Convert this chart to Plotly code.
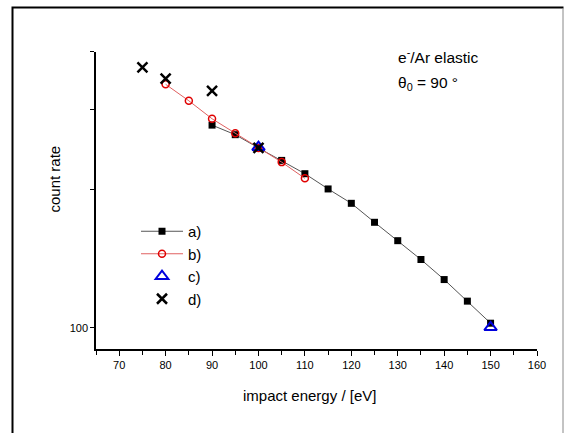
import plotly.graph_objects as go

# a) black squares with grey line
a_x = [90, 95, 100, 105, 110, 115, 120, 125, 130, 135, 140, 145, 150]
a_y = [277, 264, 247, 232, 217, 201, 187, 170, 155, 141, 127.5, 114.4, 102.4]
# b) red open circles
b_x = [80, 85, 90, 95, 100, 105, 110]
b_y = [340, 313, 286, 266, 247, 230, 212]
# c) blue open triangles
c_x = [100, 150]
c_y = [248, 100.3]
# d) black crosses
d_x = [75, 80, 90, 100]
d_y = [370, 350, 329, 247]

y_tickvals = [100, 200, 300, 400]
y_ticktext = ["100", "", "", ""]
x_tickvals = [70, 80, 90, 100, 110, 120, 130, 140, 150, 160]

FONT = "Liberation Sans, Arial, sans-serif"

# plot-area geometry helpers (pixels -> paper)
L, R, T, B = 96, 537, 52, 349
def px(x):
    return (x - L) / (R - L)
def py(y):
    return (B - y) / (B - T)

fig = go.Figure()
fig.add_trace(go.Scatter(x=a_x, y=a_y, mode="lines+markers", name="a)",
                         line=dict(color="#555555", width=1),
                         marker=dict(symbol="square", size=7, color="black")))
fig.add_trace(go.Scatter(x=b_x, y=b_y, mode="lines+markers", name="b)",
                         line=dict(color="#e06060", width=1),
                         marker=dict(symbol="circle-open", size=7, color="#e00000",
                                     line=dict(width=1.5))))
fig.add_trace(go.Scatter(x=c_x, y=c_y, mode="markers", name="c)",
                         marker=dict(symbol="triangle-up-open", size=11, color="#0000dd",
                                     line=dict(width=2))))
fig.add_trace(go.Scatter(x=d_x, y=d_y, mode="markers", name="d)",
                         marker=dict(symbol="x-thin-open", size=10, color="black",
                                     line=dict(width=2.5, color="black"))))

fig.update_layout(
    width=564, height=433,
    margin=dict(l=L, r=564 - R, t=T, b=433 - B),
    paper_bgcolor="white", plot_bgcolor="white",
    font=dict(family=FONT, color="black"),
    showlegend=True,
    legend=dict(x=px(136), y=py(215), xanchor="left", yanchor="top",
                bgcolor="rgba(0,0,0,0)", font=dict(size=15, family=FONT),
                borderwidth=0, itemwidth=42),
    xaxis=dict(range=[65, 160], tickvals=x_tickvals, ticks="outside", ticklen=5,
               tickwidth=1, tickcolor="black", showline=True, linecolor="black",
               linewidth=1.5, showgrid=False, zeroline=False,
               tickfont=dict(size=11, family=FONT),
               minor=dict(dtick=5, tick0=65, ticks="outside", ticklen=4,
                          tickcolor="black", tickwidth=1, showgrid=False)),
    yaxis=dict(type="log", range=[1.954, 2.602], tickvals=y_tickvals,
               ticktext=y_ticktext, ticks="outside", ticklen=4, tickwidth=1,
               tickcolor="black", showline=True, linecolor="black", linewidth=1.5,
               showgrid=False, zeroline=False, tickfont=dict(size=11, family=FONT)),
    annotations=[
        dict(text="count rate", xref="paper", yref="paper", x=px(54), y=py(179.5),
             textangle=-90, showarrow=False, font=dict(size=15, family=FONT),
             xanchor="center", yanchor="middle"),
        dict(text="impact energy / [eV]", xref="paper", yref="paper",
             x=px(309.5), y=py(395), showarrow=False,
             font=dict(size=15, family=FONT), xanchor="center", yanchor="middle"),
        dict(text="e<sup>-</sup>/Ar elastic", xref="paper", yref="paper",
             x=px(396), y=py(56), showarrow=False,
             font=dict(size=15.5, family=FONT), xanchor="left", yanchor="middle"),
        dict(text="θ<sub>0</sub> = 90 °", xref="paper", yref="paper",
             x=px(396), y=py(84), showarrow=False,
             font=dict(size=15.5, family=FONT), xanchor="left", yanchor="middle"),
    ],
    shapes=[
        dict(type="path", xref="paper", yref="paper",
             path=f"M {px(12.5)} {py(450)} L {px(12.5)} {py(7.5)} L {px(563.5)} {py(7.5)}",
             line=dict(color="black", width=2)),
        dict(type="line", xref="paper", yref="paper",
             x0=px(563), x1=px(563), y0=py(8), y1=py(450),
             line=dict(color="#888888", width=1)),
    ],
)

fig.write_html("out.html", config={"displayModeBar": False},
               post_script="document.body.style.margin='0';document.body.style.padding='0';")
